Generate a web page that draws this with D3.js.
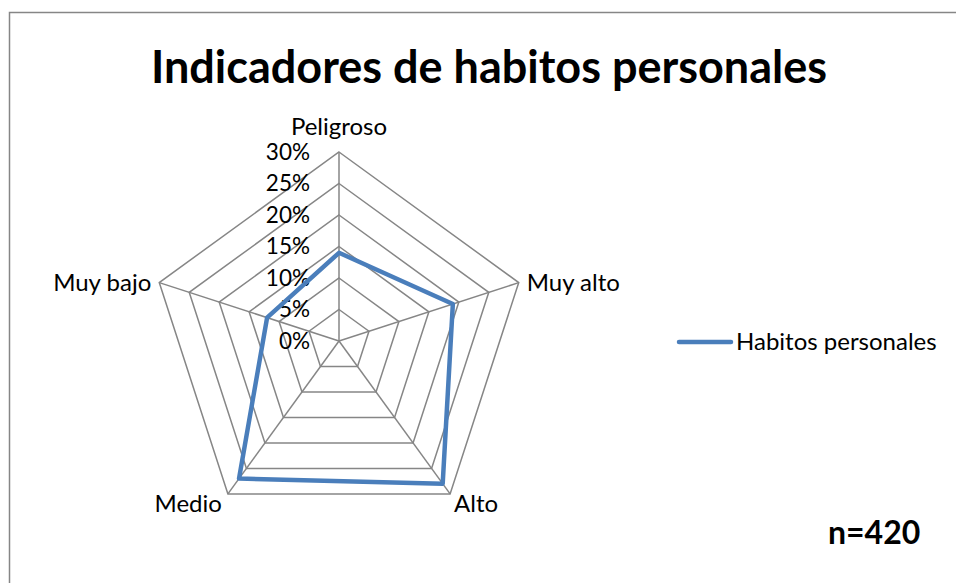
<!DOCTYPE html>
<html>
<head>
<meta charset="utf-8">
<script src="https://cdn.jsdelivr.net/npm/d3@7"></script>
<style>
  body { margin: 0; background: #fff; }
  svg { display: block; font-family: Lato, "Open Sans", sans-serif; }
</style>
</head>
<body>
<div id="chart"></div>
<script>
// data
const categories = ["Peligroso", "Muy alto", "Alto", "Medio", "Muy bajo"];
const habitos = [0.14, 0.19, 0.28, 0.27, 0.12];
const ticks = [0, 0.05, 0.10, 0.15, 0.20, 0.25, 0.30];
const seriesName = "Habitos personales";

const width = 956, height = 583;
const cx = 339, cy = 341, radius = 189;

const svg = d3.select("#chart")
    .append("svg")
    .attr("width", width)
    .attr("height", height);

// chart border (right/bottom edges fall outside the picture)
svg.append("rect")
    .attr("x", 9.5).attr("y", 12.5)
    .attr("width", 960).attr("height", 600)
    .attr("fill", "#fff")
    .attr("stroke", "#868686")
    .attr("stroke-width", 1.5);

svg.append("text")
    .attr("x", 489).attr("y", 83)
    .attr("text-anchor", "middle")
    .style("font-size", "45px")
    .style("font-weight", "bold")
    .text("Indicadores de habitos personales");

const r = d3.scaleLinear().domain([0, 0.30]).range([0, radius]);
const angle = d3.scalePoint().domain(categories).range([0, 2 * Math.PI * 4 / 5]);

const g = svg.append("g").attr("transform", "translate(" + cx + "," + cy + ")");

function pt(cat, v) {
    const a = angle(cat);
    return [r(v) * Math.sin(a), -r(v) * Math.cos(a)];
}

// grid rings
g.selectAll(".ring")
    .data(ticks.slice(1))
    .enter()
    .append("polygon")
    .attr("points", function (t) {
        return categories.map(c => pt(c, t).join(",")).join(" ");
    })
    .attr("fill", "none")
    .attr("stroke", "#868686")
    .attr("stroke-width", 1.5);

// spokes
g.selectAll(".spoke")
    .data(categories)
    .enter()
    .append("line")
    .attr("x1", 0).attr("y1", 0)
    .attr("x2", d => pt(d, 0.30)[0])
    .attr("y2", d => pt(d, 0.30)[1])
    .attr("stroke", "#868686")
    .attr("stroke-width", 1.5);

// tick labels
g.selectAll(".tick")
    .data(ticks)
    .enter()
    .append("text")
    .attr("x", -29)
    .attr("y", d => -r(d))
    .attr("dy", "0.35em")
    .attr("text-anchor", "end")
    .style("font-size", "22.5px")
    .text(d3.format(".0%"));

// category labels
const labelPos = {
    "Peligroso": { dx: 0, dy: -25, anchor: "middle" },
    "Muy alto": { dx: 8, dy: 0, anchor: "start" },
    "Alto": { dx: 4, dy: 10, anchor: "start" },
    "Medio": { dx: -6, dy: 10, anchor: "end" },
    "Muy bajo": { dx: -8, dy: 0, anchor: "end" }
};
g.selectAll(".cat")
    .data(categories)
    .enter()
    .append("text")
    .attr("x", d => pt(d, 0.30)[0] + labelPos[d].dx)
    .attr("y", d => pt(d, 0.30)[1] + labelPos[d].dy)
    .attr("dy", "0.35em")
    .attr("text-anchor", d => labelPos[d].anchor)
    .style("font-size", "24px")
    .text(d => d);

// series
const line = d3.line().curve(d3.curveLinearClosed);
g.append("path")
    .attr("d", line(categories.map((c, i) => pt(c, habitos[i]))))
    .attr("fill", "none")
    .attr("stroke", "#4a7ebb")
    .attr("stroke-width", 4.5)
    .attr("stroke-linejoin", "round");

// legend
svg.append("line")
    .attr("x1", 679).attr("x2", 731)
    .attr("y1", 342).attr("y2", 342)
    .attr("stroke", "#4a7ebb")
    .attr("stroke-width", 4.5)
    .attr("stroke-linecap", "round");
svg.append("text")
    .attr("x", 736).attr("y", 342)
    .attr("dy", "0.35em")
    .style("font-size", "24px")
    .text(seriesName);

svg.append("text")
    .attr("x", 828).attr("y", 533)
    .attr("dy", "0.35em")
    .style("font-size", "32px")
    .style("font-weight", "bold")
    .text("n=420");
</script>
</body>
</html>
